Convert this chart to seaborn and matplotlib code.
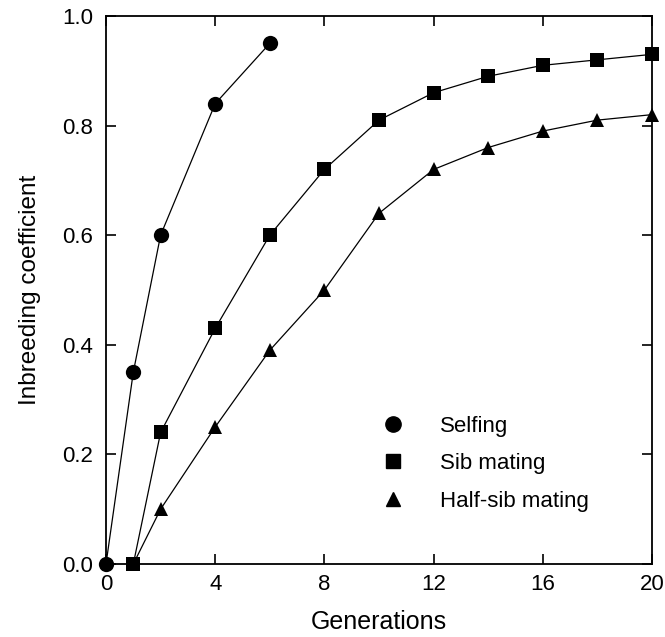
import matplotlib
matplotlib.use("Agg")
import matplotlib.pyplot as plt
from matplotlib.lines import Line2D
import seaborn as sns
import pandas as pd

selfing_x = [0, 1, 2, 4, 6]
selfing_y = [0.0, 0.35, 0.60, 0.84, 0.95]
sib_x = [1, 2, 4, 6, 8, 10, 12, 14, 16, 18, 20]
sib_y = [0.0, 0.24, 0.43, 0.60, 0.72, 0.81, 0.86, 0.89, 0.91, 0.92, 0.93]
half_x = [1, 2, 4, 6, 8, 10, 12, 14, 16, 18, 20]
half_y = [0.0, 0.10, 0.25, 0.39, 0.50, 0.64, 0.72, 0.76, 0.79, 0.81, 0.82]
series_names = ["Selfing", "Sib mating", "Half-sib mating"]
x_ticks = [0, 4, 8, 12, 16, 20]
y_ticks = [0.0, 0.2, 0.4, 0.6, 0.8, 1.0]

sns.set_theme(style="ticks")
plt.rcParams["font.family"] = ["Liberation Sans", "DejaVu Sans"]
plt.rcParams["text.color"] = "black"
plt.rcParams["axes.labelcolor"] = "black"

fig = plt.figure(figsize=(6.65, 6.37), dpi=100)
ax = fig.add_axes([0.1594, 0.1146, 0.8211, 0.8603])

markers = ["o", "s", "^"]
sizes = [11, 10, 10.5]
data = [(selfing_x, selfing_y), (sib_x, sib_y), (half_x, half_y)]
for (xs, ys), name, m, ms in zip(data[::-1], series_names[::-1], markers[::-1], sizes[::-1]):
    df = pd.DataFrame({"x": xs, "y": ys})
    sns.lineplot(data=df, x="x", y="y", ax=ax, color="black", linewidth=0.9,
                 marker=m, markersize=ms, markeredgewidth=0, clip_on=False,
                 zorder=3)

ax.set_xlim(0, 20)
ax.set_ylim(0, 1.0)
ax.set_xticks(x_ticks)
ax.set_xticklabels([str(t) for t in x_ticks])
ax.set_yticks(y_ticks)
ax.set_yticklabels([f"{t:.1f}" for t in y_ticks])
ax.tick_params(direction="in", length=7, width=1.2, top=True, right=True,
               labelsize=16, colors="black", labelcolor="black")
ax.tick_params(axis="x", pad=7.5)
ax.tick_params(axis="y", pad=9.5)
for s in ax.spines.values():
    s.set_linewidth(1.3)
    s.set_color("black")
ax.set_xlabel("Generations", fontsize=18, labelpad=10.5, color="black")
ax.set_ylabel("Inbreeding coefficient", fontsize=17.5, labelpad=15, color="black")

handles = [Line2D([], [], color="black", marker=m, linestyle="none", markersize=ms)
           for m, ms in zip(markers, [11, 9.5, 9.5])]
ax.legend(handles, series_names, loc="lower left", bbox_to_anchor=(0.505, 0.095),
          frameon=False, fontsize=16, handlelength=1.0, handletextpad=1.6,
          labelspacing=0.75, borderpad=0, borderaxespad=0)

fig.savefig("out.png", dpi=100)
